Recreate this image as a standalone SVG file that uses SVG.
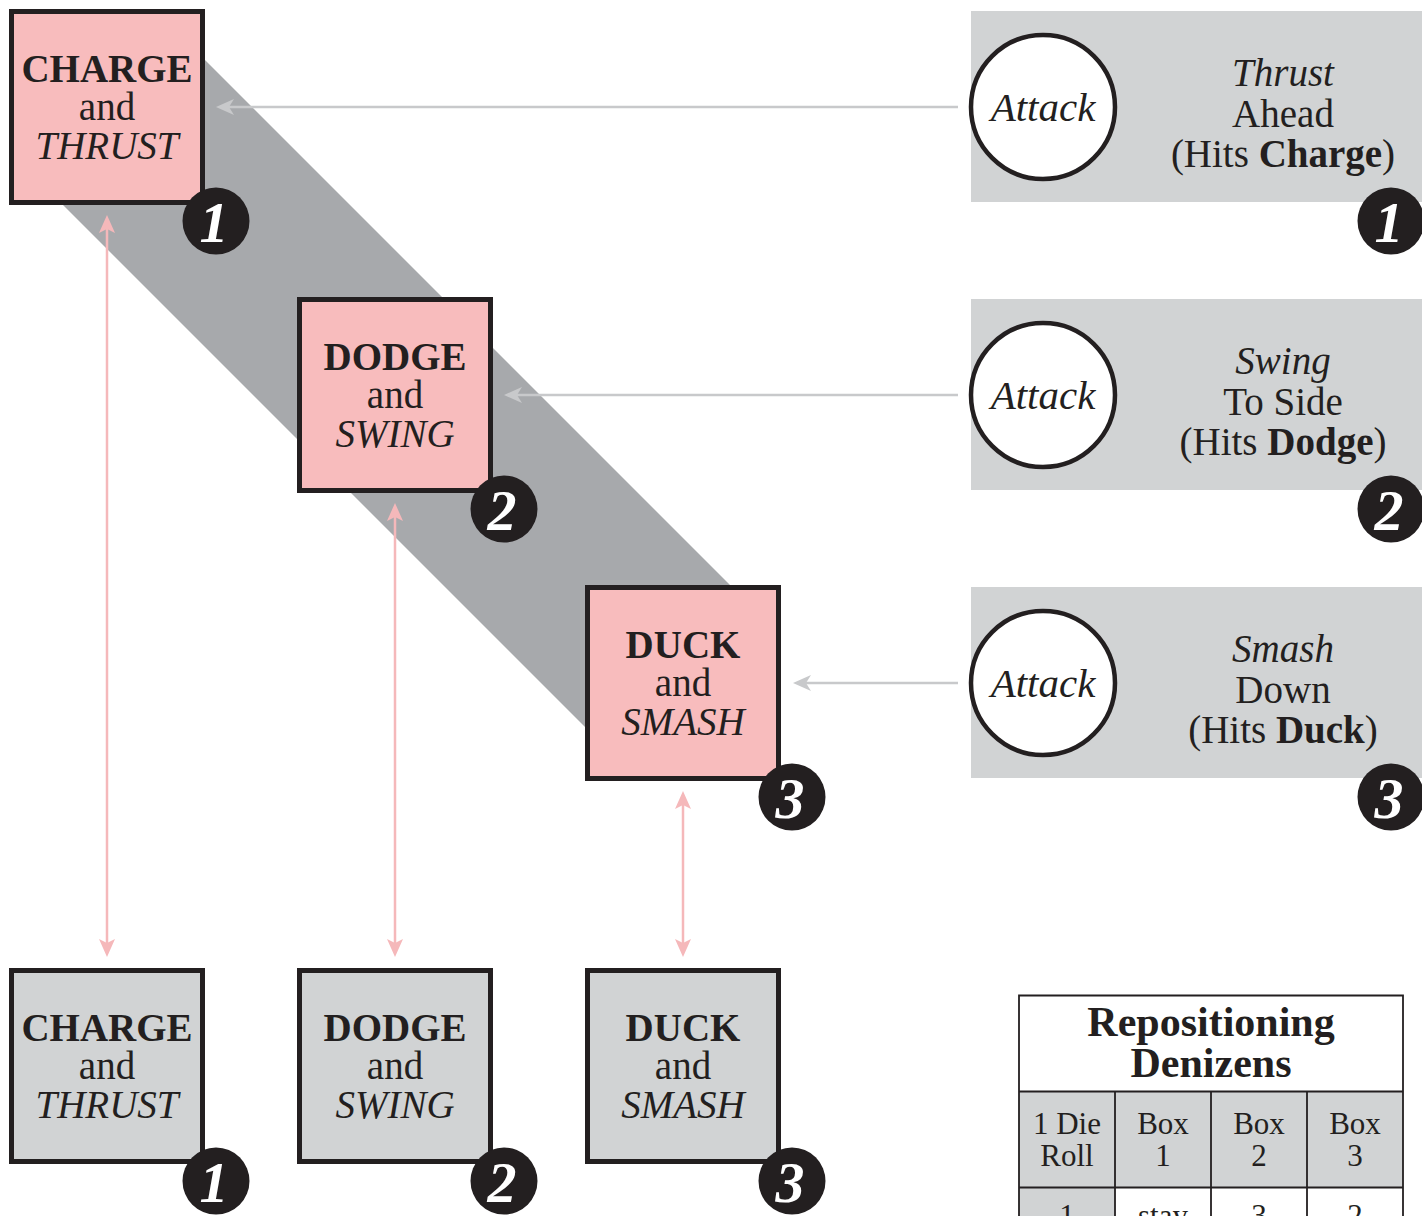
<svg xmlns="http://www.w3.org/2000/svg" width="1422" height="1216" viewBox="0 0 1422 1216">
<style>
text{font-family:"Liberation Serif","Times New Roman",serif;fill:#231f20;text-anchor:middle}
.b{font-weight:bold}
.i{font-style:italic}
.bx{font-size:39px}
.pbox{fill:#f8bcbd;stroke:#231f20;stroke-width:5}
.gbox{fill:#d1d3d4;stroke:#231f20;stroke-width:5}
.badge{fill:#231f20}
.num{font-size:58px;font-weight:bold;font-style:italic;fill:#ffffff}
.panel{fill:#d1d3d4}
.circ{fill:#ffffff;stroke:#231f20;stroke-width:4.5}
.att{font-size:41px;font-style:italic}
.pt{font-size:39px}
.ga{stroke:#c8c9cb;stroke-width:2.5;fill:none}
.gah{fill:#c8c9cb}
.pa{stroke:#f5b8ba;stroke-width:2.5;fill:none}
.pah{fill:#f5b8ba}
.tl{stroke:#231f20;stroke-width:1.8;fill:none}
.th{font-size:31px}
</style>
<rect width="1422" height="1216" fill="#ffffff"/>
<polygon id="band" points="160,15 740,595 600,742 20,162" fill="#a7a9ac"/>
<g id="connectors">
<line class="ga" x1="958" y1="107" x2="229" y2="107"/>
<polygon class="gah" points="216,107 234,99 229,107 234,115"/>
<line class="ga" x1="958" y1="395" x2="517" y2="395"/>
<polygon class="gah" points="504,395 522,387 517,395 522,403"/>
<line class="ga" x1="958" y1="683" x2="806" y2="683"/>
<polygon class="gah" points="793,683 811,675 806,683 811,691"/>
<line class="pa" x1="107" y1="229" x2="107" y2="943"/>
<polygon class="pah" points="107,215 99,233 107,229 115,233"/>
<polygon class="pah" points="107,957 99,939 107,943 115,939"/>
<line class="pa" x1="395" y1="517" x2="395" y2="943"/>
<polygon class="pah" points="395,503 387,521 395,517 403,521"/>
<polygon class="pah" points="395,957 387,939 395,943 403,939"/>
<line class="pa" x1="683" y1="805" x2="683" y2="943"/>
<polygon class="pah" points="683,791 675,809 683,805 691,809"/>
<polygon class="pah" points="683,957 675,939 683,943 691,939"/>
</g>
<g id="box1">
<rect class="pbox" x="11.5" y="11.5" width="191" height="191"/>
<text class="bx b" x="107" y="82">CHARGE</text>
<text class="bx" x="107" y="120">and</text>
<text class="bx i" x="107" y="159">THRUST</text>
<circle class="badge" cx="216" cy="221" r="33.5"/>
<text class="num" x="214" y="242">1</text>
</g>
<g id="box2">
<rect class="pbox" x="299.5" y="299.5" width="191" height="191"/>
<text class="bx b" x="395" y="370">DODGE</text>
<text class="bx" x="395" y="408">and</text>
<text class="bx i" x="395" y="447">SWING</text>
<circle class="badge" cx="504" cy="509" r="33.5"/>
<text class="num" x="502" y="530">2</text>
</g>
<g id="box3">
<rect class="pbox" x="587.5" y="587.5" width="191" height="191"/>
<text class="bx b" x="683" y="658">DUCK</text>
<text class="bx" x="683" y="696">and</text>
<text class="bx i" x="683" y="735">SMASH</text>
<circle class="badge" cx="792" cy="797" r="33.5"/>
<text class="num" x="790" y="818">3</text>
</g>
<g id="bbox1">
<rect class="gbox" x="11.5" y="970.5" width="191" height="191"/>
<text class="bx b" x="107" y="1041">CHARGE</text>
<text class="bx" x="107" y="1079">and</text>
<text class="bx i" x="107" y="1118">THRUST</text>
<circle class="badge" cx="216" cy="1181" r="33.5"/>
<text class="num" x="214" y="1202">1</text>
</g>
<g id="bbox2">
<rect class="gbox" x="299.5" y="970.5" width="191" height="191"/>
<text class="bx b" x="395" y="1041">DODGE</text>
<text class="bx" x="395" y="1079">and</text>
<text class="bx i" x="395" y="1118">SWING</text>
<circle class="badge" cx="504" cy="1181" r="33.5"/>
<text class="num" x="502" y="1202">2</text>
</g>
<g id="bbox3">
<rect class="gbox" x="587.5" y="970.5" width="191" height="191"/>
<text class="bx b" x="683" y="1041">DUCK</text>
<text class="bx" x="683" y="1079">and</text>
<text class="bx i" x="683" y="1118">SMASH</text>
<circle class="badge" cx="792" cy="1181" r="33.5"/>
<text class="num" x="790" y="1202">3</text>
</g>
<g id="attack1">
<rect class="panel" x="971" y="11" width="451" height="191"/>
<circle class="circ" cx="1043" cy="107" r="72"/>
<text class="att" x="1043" y="121">Attack</text>
<text class="pt i" x="1283" y="86">Thrust</text>
<text class="pt" x="1283" y="127">Ahead</text>
<text class="pt" x="1283" y="167">(Hits <tspan class="b">Charge</tspan>)</text>
<circle class="badge" cx="1391" cy="221" r="33.5"/>
<text class="num" x="1389" y="242">1</text>
</g>
<g id="attack2">
<rect class="panel" x="971" y="299" width="451" height="191"/>
<circle class="circ" cx="1043" cy="395" r="72"/>
<text class="att" x="1043" y="409">Attack</text>
<text class="pt i" x="1283" y="374">Swing</text>
<text class="pt" x="1283" y="415">To Side</text>
<text class="pt" x="1283" y="455">(Hits <tspan class="b">Dodge</tspan>)</text>
<circle class="badge" cx="1391" cy="509" r="33.5"/>
<text class="num" x="1389" y="530">2</text>
</g>
<g id="attack3">
<rect class="panel" x="971" y="587" width="451" height="191"/>
<circle class="circ" cx="1043" cy="683" r="72"/>
<text class="att" x="1043" y="697">Attack</text>
<text class="pt i" x="1283" y="662">Smash</text>
<text class="pt" x="1283" y="703">Down</text>
<text class="pt" x="1283" y="743">(Hits <tspan class="b">Duck</tspan>)</text>
<circle class="badge" cx="1391" cy="797" r="33.5"/>
<text class="num" x="1389" y="818">3</text>
</g>
<g id="table">
<rect x="1019" y="995.5" width="384" height="96" fill="#ffffff"/>
<rect x="1019" y="1091.5" width="384" height="96" fill="#d1d3d4"/>
<rect x="1019" y="1187.5" width="96" height="40" fill="#d1d3d4"/>
<rect x="1115" y="1187.5" width="288" height="40" fill="#ffffff"/>
<path class="tl" d="M1019,1230 V995.5 H1403 V1230 M1019,1091.5 H1403 M1019,1187.5 H1403 M1115,1091.5 V1230 M1211,1091.5 V1230 M1307,1091.5 V1230"/>
<text class="b" style="font-size:42px" x="1211" y="1036">Repositioning</text>
<text class="b" style="font-size:42px" x="1211" y="1077">Denizens</text>
<text class="th" x="1067" y="1134">1 Die</text>
<text class="th" x="1067" y="1166">Roll</text>
<text class="th" x="1163" y="1134">Box</text>
<text class="th" x="1163" y="1166">1</text>
<text class="th" x="1259" y="1134">Box</text>
<text class="th" x="1259" y="1166">2</text>
<text class="th" x="1355" y="1134">Box</text>
<text class="th" x="1355" y="1166">3</text>
<text class="th" x="1067" y="1226">1</text>
<text class="th" x="1163" y="1226">stay</text>
<text class="th" x="1259" y="1226">3</text>
<text class="th" x="1355" y="1226">2</text>
</g>
</svg>
